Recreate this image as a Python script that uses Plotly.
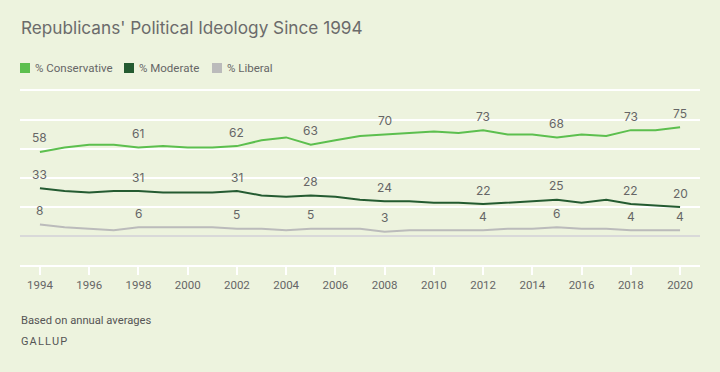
import plotly.graph_objects as go

years = list(range(1994, 2021))
conservative = [58, 61, 63, 63, 61, 62, 61, 61, 62, 66, 68, 63, 66, 69, 70, 71, 72, 71, 73, 70, 70, 68, 70, 69, 73, 73, 75]
moderate = [33, 31, 30, 31, 31, 30, 30, 30, 31, 28, 27, 28, 27, 25, 24, 24, 23, 23, 22, 23, 24, 25, 23, 25, 22, 21, 20]
liberal = [8, 6, 5, 4, 6, 6, 6, 6, 5, 5, 4, 5, 5, 5, 3, 4, 4, 4, 4, 5, 5, 6, 5, 5, 4, 4, 4]
label_years = [1994, 1998, 2002, 2005, 2008, 2012, 2015, 2018, 2020]
tick_years = list(range(1994, 2021, 2))

series = [
    ("% Conservative", conservative, "#5cbf4e"),
    ("% Moderate", moderate, "#245b31"),
    ("% Liberal", liberal, "#bbbbbb"),
]

BG = "#edf3de"
TXT = "#666666"

fig = go.Figure()
annotations = []
for name, vals, color in series:
    fig.add_trace(go.Scatter(x=years, y=vals, mode="lines", name=name,
                             line=dict(color=color, width=2), showlegend=False,
                             hoverinfo="skip"))
    for yr, v in zip(years, vals):
        if yr in label_years:
            annotations.append(dict(x=yr, y=v, xref="x", yref="y", text=str(v),
                                    showarrow=False, yshift=14,
                                    font=dict(family="Inter, Roboto, sans-serif", size=12, color=TXT)))

annotations.append(dict(x=19, y=372 - 27, xref="paper", yref="paper", text="Republicans' Political Ideology Since 1994",
                        showarrow=False, xanchor="left", yanchor="middle",
                        font=dict(family="Inter, Roboto, sans-serif", size=17.2, color="#6b6b6b")))
annotations.append(dict(x=19, y=372 - 320, xref="paper", yref="paper", text="Based on annual averages",
                        showarrow=False, xanchor="left", yanchor="middle",
                        font=dict(family="Roboto, Inter, sans-serif", size=11.2, color="#555555")))
annotations.append(dict(x=19, y=372 - 341, xref="paper", yref="paper", text="\u200a".join("GALLUP"),
                        showarrow=False, xanchor="left", yanchor="middle",
                        font=dict(family="Roboto, Inter, sans-serif", size=11, color="#555555")))

shapes = []
legend_x = [20, 124, 212]
for (name, vals, color), lx in zip(series, legend_x):
    shapes.append(dict(type="rect", xref="paper", yref="paper", x0=lx, x1=lx + 10,
                       y0=372 - 73, y1=372 - 63, fillcolor=color, line=dict(width=0)))
    annotations.append(dict(x=lx + 13, y=372 - 68, xref="paper", yref="paper", text=name,
                            showarrow=False, xanchor="left", yanchor="middle",
                            font=dict(family="Roboto, sans-serif", size=11.5, color=TXT)))

W, H = 720, 372
ML, MR, MT, MB = 20, 20, 91, 107
pw, ph = W - ML - MR, H - MT - MB
for a in annotations:
    if a["xref"] == "paper":
        a["x"] = (a["x"] - ML) / pw
        a["y"] = (a["y"] - MB) / ph
for s in shapes:
    s["x0"] = (s["x0"] - ML) / pw
    s["x1"] = (s["x1"] - ML) / pw
    s["y0"] = (s["y0"] - MB) / ph
    s["y1"] = (s["y1"] - MB) / ph

fig.update_layout(
    width=W, height=H,
    margin=dict(l=ML, r=MR, t=MT, b=MB),
    paper_bgcolor=BG, plot_bgcolor=BG,
    annotations=annotations, shapes=shapes,
    xaxis=dict(range=[1993.19, 2020.81], tickmode="array", tickvals=tick_years, ticktext=[str(y) for y in tick_years],
               showgrid=False, zeroline=False,
               showline=True, linecolor="white", linewidth=2, mirror=True,
               ticks="outside", ticklen=8, tickwidth=2, tickcolor="white",
               tickfont=dict(family="Roboto, sans-serif", size=11.5, color=TXT),
               fixedrange=True),
    yaxis=dict(range=[-20, 100], tickmode="array", tickvals=[0, 20, 40, 60, 80], showticklabels=False,
               showgrid=True, gridcolor="white", gridwidth=2,
               zeroline=True, zerolinecolor="#d9d9d9", zerolinewidth=2, fixedrange=True),
    showlegend=False,
)

fig.write_html("out.html", config={"displayModeBar": False},
               post_script="document.body.style.margin='0';document.body.style.background='%s';" % BG)
